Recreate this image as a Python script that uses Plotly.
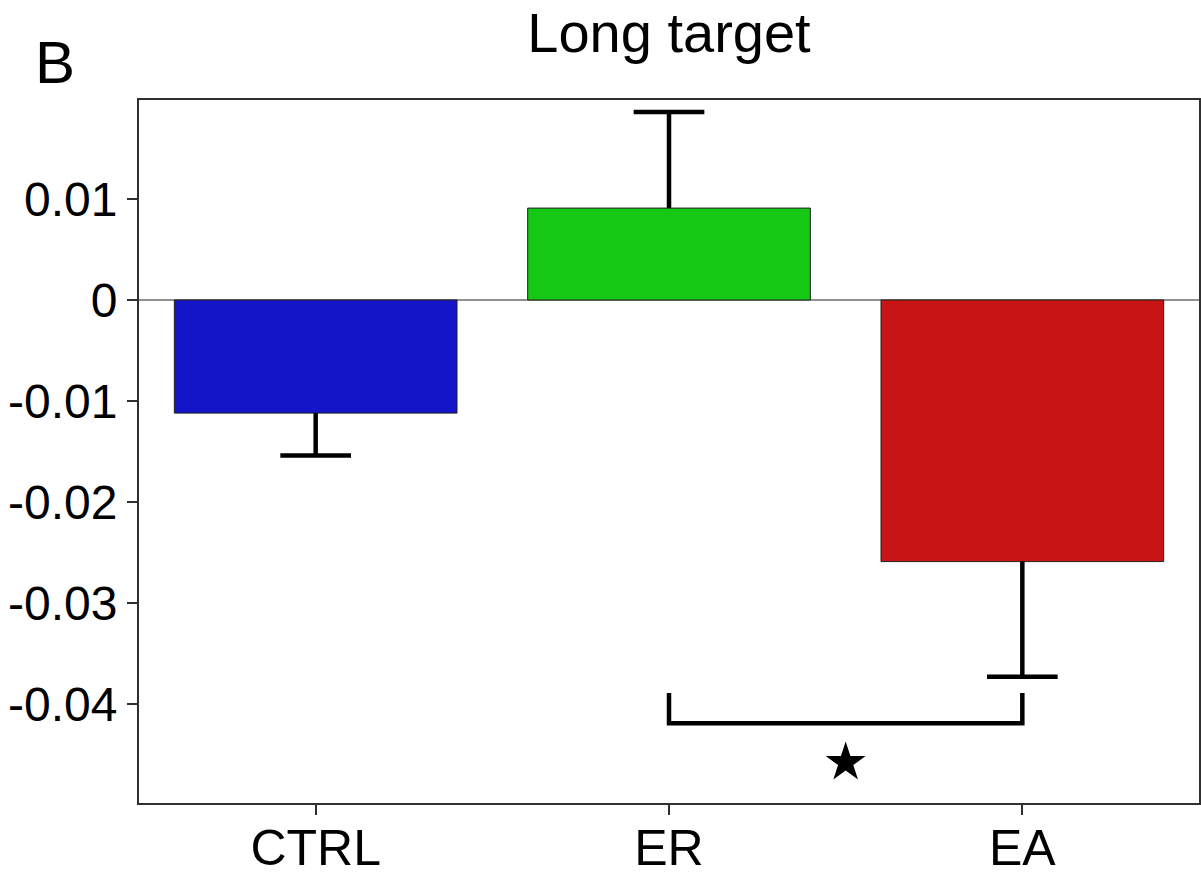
import plotly.graph_objects as go

# Group means and standard errors for the long-target condition
categories = ["CTRL", "ER", "EA"]
means = [-0.0112, 0.0091, -0.0259]
errors = [0.0042, 0.0095, 0.0114]
bar_colors = ["#1414C8", "#14C814", "#C81414"]

y_tickvals = [0.01, 0, -0.01, -0.02, -0.03, -0.04]
y_ticktext = ["0.01", "0", "-0.01", "-0.02", "-0.03", "-0.04"]

# Significance bracket between ER and EA
bracket_pair = [1, 2]
bracket_top = -0.0389
bracket_bottom = -0.0419
star_y = -0.0458

x_pos = list(range(len(categories)))
cap_half = 0.1

fig = go.Figure()

fig.add_trace(go.Bar(
    x=x_pos, y=means, width=0.8,
    marker=dict(color=bar_colors, line=dict(color="#202020", width=1)),
    showlegend=False, hoverinfo="skip",
))

# One-sided error bars: stem from the bar end outward, with a cap
ex, ey = [], []
for xi, m, e in zip(x_pos, means, errors):
    tip = m + e if m >= 0 else m - e
    ex += [xi, xi, None, xi - cap_half, xi + cap_half, None]
    ey += [m, tip, None, tip, tip, None]
fig.add_trace(go.Scatter(
    x=ex, y=ey, mode="lines", line=dict(color="black", width=4.5),
    showlegend=False, hoverinfo="skip",
))

# Bracket and star
bx = [bracket_pair[0], bracket_pair[0], bracket_pair[1], bracket_pair[1]]
by = [bracket_top, bracket_bottom, bracket_bottom, bracket_top]
fig.add_trace(go.Scatter(
    x=bx, y=by, mode="lines", line=dict(color="black", width=4.5),
    showlegend=False, hoverinfo="skip",
))
fig.add_trace(go.Scatter(
    x=[sum(bracket_pair) / 2], y=[star_y], mode="markers",
    marker=dict(symbol="star", size=30, color="black"),
    showlegend=False, hoverinfo="skip",
))

font_family = "Liberation Sans, Arial, sans-serif"

fig.update_layout(
    width=1201, height=877,
    margin=dict(l=139, r=2, t=100, b=74),
    paper_bgcolor="white", plot_bgcolor="white",
    font=dict(family=font_family, color="black"),
    title=dict(text="Long target", x=(139 + 1199) / 2 / 1201, xanchor="center",
               y=1 - 32 / 877, yanchor="middle", yref="container",
               font=dict(size=56, color="black")),
    annotations=[dict(text="B", xref="paper", yref="paper",
                      x=(33 - 139) / 1060, y=(802.7 - 62) / 703,
                      xanchor="left", yanchor="middle", showarrow=False,
                      font=dict(size=60, color="black"))],
)

fig.update_xaxes(
    range=[-0.5, 2.5], tickvals=x_pos, ticktext=categories,
    ticks="outside", ticklen=10, tickwidth=1.5, tickcolor="#303030",
    showline=True, linecolor="#303030", linewidth=2, mirror=True,
    showgrid=False, zeroline=False, automargin=False,
    ticklabelstandoff=-10,
    tickfont=dict(size=50, color="black"),
)
fig.update_yaxes(
    range=[-0.0498, 0.0198], tickvals=y_tickvals, ticktext=y_ticktext,
    ticks="outside", ticklen=10, tickwidth=1.5, tickcolor="#303030",
    showline=True, linecolor="#303030", linewidth=2, mirror=True,
    showgrid=False, zeroline=True, zerolinecolor="#909090", zerolinewidth=1.5,
    automargin=False, tickfont=dict(size=48, color="black"),
)

fig.write_html("out.html")
